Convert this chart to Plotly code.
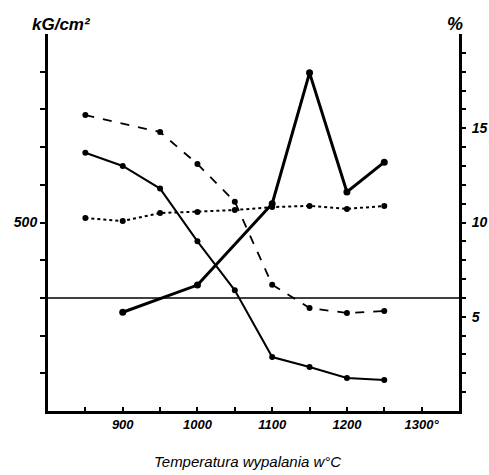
import plotly.graph_objects as go

# Temperatures (°C)
temps_all = [850, 900, 950, 1000, 1050, 1100, 1150, 1200, 1250]

# Solid decreasing series (%)
solid_dec = [13.7, 13.0, 11.8, 9.0, 6.4, 2.86, 2.33, 1.75, 1.64]

# Dashed series (%)
temps_dash = [850, 950, 1000, 1050, 1100, 1150, 1200, 1250]
dashed = [15.7, 14.8, 13.1, 11.1, 6.7, 5.46, 5.2, 5.3]

# Dotted series (%)
dotted = [10.24, 10.08, 10.5, 10.56, 10.66, 10.82, 10.88, 10.72, 10.88]

# Thick solid series (kG/cm2)
temps_str = [900, 1000, 1100, 1150, 1200, 1250]
strength = [262, 334, 550, 897, 581, 660]

ref_pct = 6.0

x_tickvals = [850, 900, 950, 1000, 1050, 1100, 1150, 1200, 1250, 1300]
x_ticktext = ["", "900", "", "1000", "", "1100", "", "1200", "", "1300°"]
left_tickvals = [100, 200, 300, 400, 500, 600, 700, 800, 900]
left_ticktext = ["", "", "", "", "500", "", "", "", ""]
right_tickvals = list(range(1, 20))
right_ticktext = [str(v) if v in (5, 10, 15) else "" for v in right_tickvals]

BI = lambda s: f"<b><i>{s}</i></b>" if s else ""

fig = go.Figure()
mk = dict(color="black", size=6)
fig.add_trace(go.Scatter(x=temps_all, y=solid_dec, yaxis="y2", mode="lines+markers",
                         line=dict(color="black", width=2), marker=mk))
fig.add_trace(go.Scatter(x=temps_dash, y=dashed, yaxis="y2", mode="lines+markers",
                         line=dict(color="black", width=1.8, dash="dash"), marker=mk))
fig.add_trace(go.Scatter(x=temps_all, y=dotted, yaxis="y2", mode="lines+markers",
                         line=dict(color="black", width=2, dash="dot"), marker=mk))
fig.add_trace(go.Scatter(x=temps_str, y=strength, yaxis="y", mode="lines+markers",
                         line=dict(color="black", width=3), marker=dict(color="black", size=7)))

fig.add_shape(type="line", xref="paper", x0=0, x1=1, yref="y2", y0=ref_pct, y1=ref_pct,
              line=dict(color="black", width=1.5))

fig.update_layout(
    width=489, height=475,
    margin=dict(l=48, r=30, t=34, b=64),
    plot_bgcolor="white", paper_bgcolor="white",
    showlegend=False,
    font=dict(family="Liberation Sans, Arial, sans-serif", color="black", size=12),
    xaxis=dict(range=[800, 1350], tickvals=x_tickvals, ticktext=[BI(t) for t in x_ticktext],
               ticks="inside", ticklen=4, tickwidth=1.5, tickcolor="black", automargin=False,
               showline=True, linecolor="black", linewidth=2.5, showgrid=False, zeroline=False,
               tickfont=dict(size=13)),
    yaxis=dict(range=[0, 1000], tickvals=left_tickvals, ticktext=[BI(t) for t in left_ticktext],
               ticks="outside", ticklen=5, tickwidth=1.5, tickcolor="black", automargin=False,
               showline=True, linecolor="black", linewidth=3, showgrid=False, zeroline=False,
               tickfont=dict(size=14)),
    yaxis2=dict(range=[0, 20], overlaying="y", side="right", anchor="x", automargin=False,
                tickvals=right_tickvals, ticktext=[BI(t) for t in right_ticktext],
                ticks="outside", ticklen=4, tickwidth=1.5, tickcolor="black",
                showline=True, linecolor="black", linewidth=3, showgrid=False, zeroline=False,
                ticklabelstandoff=3, tickfont=dict(size=14)),
    annotations=[
        dict(text="<b><i>kG/cm²</i></b>", xref="paper", yref="paper", x=-0.045, y=0.995,
             xanchor="left", yanchor="bottom", showarrow=False, font=dict(size=17)),
        dict(text="<b><i>%</i></b>", xref="paper", yref="paper", x=0.99, y=0.995,
             xanchor="center", yanchor="bottom", showarrow=False, font=dict(size=18)),
        dict(text="<i>Temperatura wypalania w°C</i>", xref="paper", yref="paper", x=0.485, y=-0.135,
             xanchor="center", yanchor="middle", showarrow=False, font=dict(size=15)),
    ],
)

fig.write_html("out.html")
